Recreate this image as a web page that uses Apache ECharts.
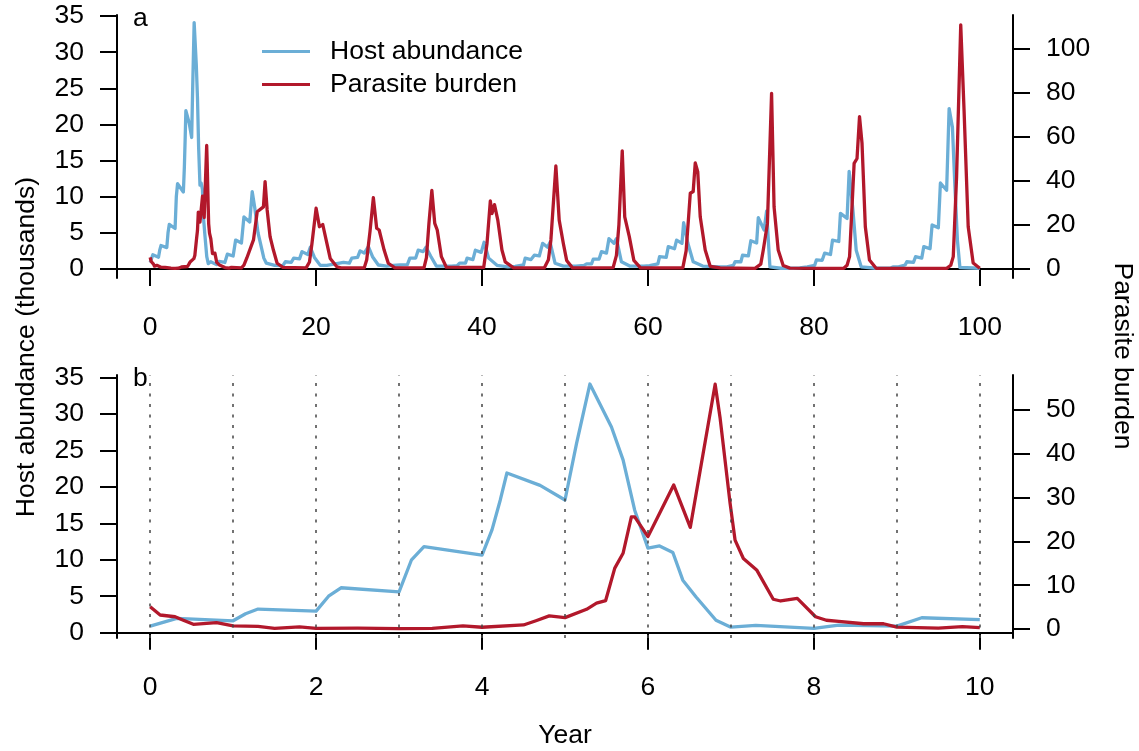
<!doctype html>
<html>
    <head>
        <meta charset="utf-8">
        <title>Host-parasite dynamics</title>
        <style>
            html, body { margin: 0; padding: 0; background: #fff; }
            #main { width: 1139px; height: 751px; }
        </style>
    </head>
    <body>
        <div id="main"></div>
        <script src="https://cdn.jsdelivr.net/npm/echarts@6/dist/echarts.min.js"></script>
        <script>
            // [year, host abundance (thousands)] for the first ten years, shown in panel b
            var hostEarly = [
                [0, 0.9], [0.32, 1.96], [1.0, 1.63], [1.15, 2.6], [1.3, 3.24], [2.0, 2.96],
                [2.15, 5.0], [2.3, 6.16], [3.0, 5.6], [3.15, 10.0], [3.3, 11.8], [4.0, 10.65],
                [4.12, 14.1], [4.22, 18.2], [4.3, 21.9], [4.7, 20.2], [5.0, 18.2], [5.14, 26],
                [5.3, 34.1], [5.56, 28.2], [5.7, 23.7], [5.84, 16.8], [6.0, 11.6], [6.14, 11.9],
                [6.3, 11.0], [6.42, 7.2], [6.58, 4.9], [6.82, 1.7], [7.0, 0.75], [7.3, 1.0],
                [8.0, 0.6], [8.3, 1.04], [9.0, 0.9], [9.3, 2.05], [10, 1.8]
            ];
            // rest of the century, panel a only
            var hostLate = [
                [10.3, 4.0], [11.0, 3.6], [11.3, 7.2], [12.0, 6.5], [12.3, 10.7], [12.6, 8.5],
                [13.0, 5.0], [13.3, 3.5], [13.7, 1.5], [14.0, 0.8], [15.0, 0.5], [16.0, 0.45],
                [16.3, 1.0], [17.0, 0.9], [17.3, 1.5], [18.0, 1.4], [18.3, 2.4], [19.0, 2.0],
                [19.3, 3.0], [19.8, 1.6], [20.5, 0.5], [21.3, 0.5], [22.3, 0.7], [23.3, 0.9],
                [24.0, 0.8], [24.3, 1.5], [25.0, 1.6], [25.3, 2.5], [25.8, 2.2], [26.3, 3.1],
                [26.8, 1.7], [27.5, 0.55], [28.5, 0.4], [29.3, 0.5], [30.1, 0.55], [31.0, 0.6],
                [31.3, 1.5], [32.0, 1.5], [32.3, 2.6], [32.9, 2.4], [33.25, 3.0], [33.8, 1.8],
                [34.5, 0.4], [35.3, 0.4], [36.3, 0.4], [37.0, 0.45], [37.3, 0.8], [38.0, 0.8],
                [38.2, 1.5], [38.9, 1.3], [39.2, 2.6], [39.9, 2.3], [40.25, 3.7], [40.8, 1.5],
                [41.8, 0.5], [43.1, 0.3], [44.0, 0.35], [44.2, 0.55], [45.0, 0.55], [45.2, 1.5],
                [45.9, 1.3], [46.3, 1.9], [46.9, 1.8], [47.3, 3.55], [47.9, 3.0], [48.2, 3.7],
                [48.8, 0.8], [49.8, 0.4], [51.3, 0.4], [52.3, 0.5], [52.6, 0.7], [53.2, 0.7],
                [53.4, 1.35], [54.1, 1.35], [54.4, 2.4], [55.0, 2.2], [55.3, 4.2], [55.9, 3.55],
                [56.2, 4.2], [56.8, 1.0], [57.8, 0.4], [59.5, 0.4], [60.2, 0.45], [60.4, 0.7],
                [61.2, 0.7], [61.4, 1.7], [62.2, 1.6], [62.45, 3.1], [63.2, 2.8], [63.45, 4.0],
                [64.1, 3.55], [64.3, 6.4], [64.8, 3.6], [65.45, 1.0], [66.6, 0.4], [68.7, 0.3],
                [69.5, 0.3], [69.7, 0.55], [70.3, 0.5], [70.5, 1.0], [71.2, 1.0], [71.4, 1.9],
                [72.1, 1.8], [72.4, 3.9], [73.1, 3.6], [73.3, 7.1], [74.0, 5.4], [74.3, 8.0],
                [74.7, 0.3], [76.0, 0.1], [77.5, 0.1], [78.3, 0.15], [78.5, 0.3], [79.2, 0.3],
                [79.4, 0.55], [80.1, 0.5], [80.3, 1.25], [81.0, 1.2], [81.3, 2.2], [82.0, 2.0],
                [82.25, 4.0], [83.0, 3.8], [83.2, 7.7], [84.0, 7.0], [84.25, 13.5], [84.7, 8.2],
                [85.1, 2.6], [85.7, 0.3], [87.5, 0.1], [88.3, 0.1], [89.3, 0.15], [89.6, 0.3],
                [90.2, 0.3], [90.4, 0.55], [91.0, 0.55], [91.2, 1.0], [92.0, 0.9], [92.25, 1.7],
                [93.0, 1.5], [93.25, 3.1], [94.0, 2.8], [94.25, 6.1], [95.0, 5.7], [95.25, 11.9],
                [96.0, 10.9], [96.3, 22.2], [96.7, 19.6], [97.0, 11.4], [97.3, 4.0], [97.6, 0.2],
                [100, 0.1]
            ];

            // [year, parasite burden]
            var parasiteEarly = [
                [0, 5.1], [0.12, 3.2], [0.3, 2.8], [0.4, 2.0], [0.52, 1.07], [0.8, 1.45],
                [1.0, 0.7], [1.3, 0.6], [1.5, 0.15], [1.8, 0.5], [2.0, 0.15], [2.5, 0.2],
                [3.0, 0.1], [3.4, 0.15], [3.77, 0.7], [4.0, 0.4], [4.5, 0.93], [4.65, 1.9],
                [4.81, 3.0], [5.0, 2.6], [5.26, 4.5], [5.38, 5.9], [5.49, 6.5], [5.6, 13.9],
                [5.7, 17.3], [5.8, 25.6], [5.84, 25.6], [6.0, 21.1], [6.16, 27.2], [6.31, 32.9],
                [6.51, 23.2], [6.81, 55.9], [6.87, 48.1], [6.99, 28.7], [7.05, 20.3], [7.15, 16.1],
                [7.31, 13.5], [7.51, 6.8], [7.6, 6.4], [7.8, 7.0], [8.02, 2.8], [8.15, 2.0],
                [8.3, 1.75], [8.6, 1.2], [8.84, 1.2], [9.0, 0.45], [9.5, 0.2], [9.79, 0.55],
                [10, 0.3]
            ];
            var parasiteLate = [
                [11.0, 0.3], [11.3, 1.5], [11.65, 4.8], [12.45, 13], [12.9, 25.8], [13.1, 25],
                [13.65, 28], [13.85, 39.5], [14.1, 26.6], [14.45, 14.5], [14.85, 8.4], [15.3, 2.4],
                [16.0, 0.5], [18.8, 0.3], [19.2, 3], [19.5, 11.4], [20.0, 27.4], [20.4, 19],
                [20.8, 20], [21.3, 11.4], [21.7, 4.6], [22.5, 0.8], [23.0, 0.3], [25.8, 0.3],
                [26.1, 4], [26.5, 17], [26.9, 32.2], [27.3, 18.3], [27.6, 17.5], [28.2, 8.4],
                [28.7, 2.4], [29.5, 0.3], [33.0, 0.3], [33.3, 5], [33.6, 20.5], [33.95, 35.5],
                [34.3, 20.5], [34.6, 17.5], [35.1, 5.4], [35.7, 0.6], [40.2, 0.5], [40.6, 11.4],
                [41.0, 30.7], [41.2, 25], [41.5, 29], [41.9, 22], [42.4, 8.4], [42.8, 3.0],
                [43.8, 0.3], [47.5, 0.3], [48.0, 4], [48.3, 13], [48.9, 46.6], [49.3, 22],
                [49.8, 11.4], [50.2, 3.7], [50.9, 0.3], [55.8, 0.4], [56.2, 6], [56.5, 20],
                [56.9, 53.5], [57.2, 23.5], [57.75, 14.5], [58.3, 3.7], [59.1, 0.3], [64.2, 0.3],
                [64.6, 8], [64.9, 23.5], [65.1, 34.2], [65.45, 35], [65.7, 48], [66.0, 44],
                [66.3, 23.5], [66.9, 8.4], [67.5, 1.0], [68.7, 0.3], [72.9, 0.1], [73.6, 2],
                [73.9, 8.4], [74.4, 20.5], [74.9, 79.6], [75.2, 28], [75.7, 8.4], [76.3, 1.4],
                [77.1, 0.2], [83.6, 0.1], [84.0, 1.5], [84.3, 5.4], [84.85, 47.8], [85.2, 50],
                [85.5, 69], [85.8, 57], [86.2, 19], [86.7, 3.9], [87.5, 0.1], [96.0, 0.1],
                [96.5, 1.5], [96.8, 5.4], [97.2, 41.7], [97.7, 110.7], [98.1, 72], [98.6, 19],
                [99.2, 2.5], [100, 0.1]
            ];

            var yearTicksA = [0, 20, 40, 60, 80, 100];
            var yearTicksB = [0, 2, 4, 6, 8, 10];
            var yearLinesB = [0, 1, 2, 3, 4, 5, 6, 7, 8, 9, 10];
            var hostTicks = [0, 5, 10, 15, 20, 25, 30, 35];
            var parasiteTicksA = [0, 20, 40, 60, 80, 100];
            var parasiteTicksB = [0, 10, 20, 30, 40, 50];

            var BLUE = '#6baed6';
            var RED = '#b2182b';
            var FONT = '"Liberation Sans", Arial, Helvetica, sans-serif';
            var FS = 26.5;

            function axisX(gridIndex, min, max, ticks) {
                return {
                    type: 'value', gridIndex: gridIndex, min: min, max: max,
                    axisLine: { show: true, lineStyle: { color: '#000', width: 2 } },
                    axisTick: { show: true, length: 17, customValues: ticks, lineStyle: { color: '#000', width: 2 } },
                    axisLabel: { customValues: ticks, margin: 36, color: '#000', fontSize: FS, fontFamily: FONT },
                    splitLine: { show: false }
                };
            }
            function axisY(gridIndex, pos, min, max, ticks) {
                return {
                    type: 'value', gridIndex: gridIndex, position: pos, min: min, max: max,
                    axisLine: { show: true, onZero: false, lineStyle: { color: '#000', width: 2 } },
                    axisTick: { show: true, length: 17, customValues: ticks, lineStyle: { color: '#000', width: 2 } },
                    axisLabel: { customValues: ticks, margin: 33, color: '#000', fontSize: FS, fontFamily: FONT },
                    splitLine: { show: false }
                };
            }
            function line(name, data, xi, yi, color) {
                return {
                    name: name, type: 'line', data: data,
                    xAxisIndex: xi, yAxisIndex: yi,
                    symbol: 'none', showSymbol: false,
                    lineStyle: { color: color, width: 3.3, join: 'round' },
                    itemStyle: { color: color },
                    emphasis: { disabled: true }
                };
            }

            var chart = echarts.init(document.getElementById('main'));

            var hostAll = hostEarly.concat(hostLate);
            var parasiteAll = parasiteEarly.concat(parasiteLate);

            var hostB = line('Host abundance', hostEarly, 1, 2, BLUE);
            hostB.markLine = {
                silent: true, symbol: 'none', animation: false,
                label: { show: false },
                lineStyle: { color: '#444', width: 1.5, type: [3, 7.5] },
                data: yearLinesB.map(function (y) { return { xAxis: y }; })
            };

            chart.setOption({
                animation: false,
                textStyle: { fontFamily: FONT },
                grid: [
                    { left: 117, top: 15, width: 896, height: 263 },
                    { left: 117, top: 375, width: 896, height: 263 }
                ],
                xAxis: [
                    axisX(0, -4, 104, yearTicksA),
                    axisX(1, -0.4, 10.4, yearTicksB)
                ],
                yAxis: [
                    axisY(0, 'left', -1.25, 35.15, hostTicks),
                    axisY(0, 'right', -4.3, 115.2, parasiteTicksA),
                    axisY(1, 'left', -0.73, 35.34, hostTicks),
                    axisY(1, 'right', -2.05, 58.0, parasiteTicksB)
                ],
                legend: {
                    data: ['Host abundance', 'Parasite burden'],
                    orient: 'vertical', left: 257, top: 33,
                    icon: 'rect', itemWidth: 48, itemHeight: 3, itemGap: 6,
                    selectedMode: false,
                    textStyle: { color: '#000', fontSize: FS, fontFamily: FONT, lineHeight: 26, padding: [0, 0, 0, 15] }
                },
                graphic: [
                    { type: 'text', left: 133, top: 5, style: { text: 'a', fontSize: FS, fontFamily: FONT, fill: '#000' } },
                    { type: 'text', left: 133, top: 365, style: { text: 'b', fontSize: FS, fontFamily: FONT, fill: '#000' } },
                    { type: 'text', x: 27, y: 347, rotation: Math.PI / 2,
                      style: { text: 'Host abundance (thousands)', fontSize: FS, fontFamily: FONT, fill: '#000', align: 'center', verticalAlign: 'middle' } },
                    { type: 'text', x: 1122, y: 356, rotation: -Math.PI / 2,
                      style: { text: 'Parasite burden', fontSize: FS, fontFamily: FONT, fill: '#000', align: 'center', verticalAlign: 'middle' } },
                    { type: 'text', x: 565, y: 736,
                      style: { text: 'Year', fontSize: FS, fontFamily: FONT, fill: '#000', align: 'center', verticalAlign: 'middle' } }
                ],
                series: [
                    line('Host abundance', hostAll, 0, 0, BLUE),
                    line('Parasite burden', parasiteAll, 0, 1, RED),
                    hostB,
                    line('Parasite burden', parasiteEarly, 1, 3, RED)
                ]
            });

            window.addEventListener('resize', function () {
                chart.resize();
            });
        </script>
    </body>
</html>
